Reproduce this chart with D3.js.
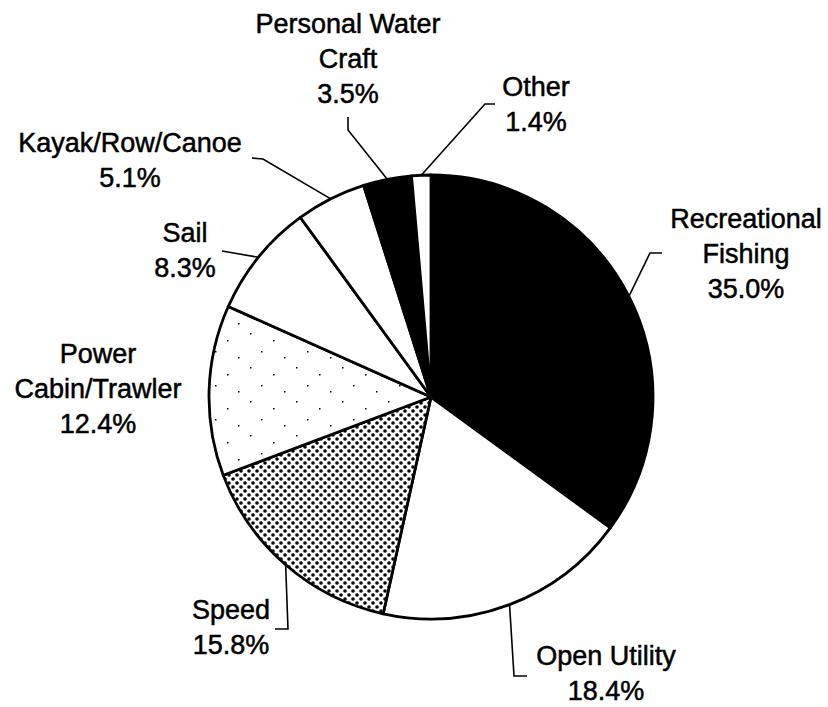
<!DOCTYPE html>
<html>
<head>
<meta charset="utf-8">
<script src="https://cdn.jsdelivr.net/npm/d3@7"></script>
<style>
  body { margin: 0; background: #fff; }
  text { font-family: "Liberation Sans", Arial, sans-serif; font-size: 27px; fill: #000;
         stroke: #000; stroke-width: 0.5px; }
</style>
</head>
<body>
<script>
// data
var categories = ['Recreational Fishing', 'Open Utility', 'Speed', 'Power Cabin/Trawler',
                  'Sail', 'Kayak/Row/Canoe', 'Personal Water Craft', 'Other'];
var shares = [35.0, 18.4, 15.8, 12.4, 8.3, 5.1, 3.5, 1.4];
var labelLines = [
    ['Recreational', 'Fishing'],
    ['Open Utility'],
    ['Speed'],
    ['Power', 'Cabin/Trawler'],
    ['Sail'],
    ['Kayak/Row/Canoe'],
    ['Personal Water', 'Craft'],
    ['Other']
];

// layout: label centre / first baseline, and leader elbows (null = no leader)
var labelPos = [[746, 228], [606, 665], [231, 619], [98, 363],
                [185, 242], [130, 152], [348, 33], [536, 96]];
var leaders = [
    [[662, 253], [650, 253]],
    [[527, 676], [514, 676]],
    [[275, 629], [288, 629]],
    null,
    [[222, 251]],
    [[252, 158], [263, 159]],
    [[348, 117], [348, 130]],
    [[495, 104], [485, 104]]
];
var fills = ['#000', '#fff', 'url(#dots)', 'url(#sparse)', '#fff', '#fff', '#000', '#fff'];

var width = 828,
    height = 707;

var cx = 431, cy = 397, radius = 222,
    lineHeight = 35;

var svg = d3.select('body').append('svg')
    .attr('width', width)
    .attr('height', height);

var defs = svg.append('defs');

var dots = defs.append('pattern')
    .attr('id', 'dots')
    .attr('patternUnits', 'userSpaceOnUse')
    .attr('width', 8)
    .attr('height', 8);
dots.append('rect').attr('width', 8).attr('height', 8).attr('fill', '#fff');
dots.append('circle').attr('cx', 2).attr('cy', 2).attr('r', 1.8).attr('fill', '#000');
dots.append('circle').attr('cx', 6).attr('cy', 6).attr('r', 1.8).attr('fill', '#000');

var sparse = defs.append('pattern')
    .attr('id', 'sparse')
    .attr('patternUnits', 'userSpaceOnUse')
    .attr('width', 46)
    .attr('height', 34);
sparse.append('rect').attr('width', 46).attr('height', 34).attr('fill', '#fff');
[[3, 4], [26, 11], [14, 22], [37, 28]].forEach(function(p) {
    sparse.append('rect').attr('x', p[0]).attr('y', p[1])
        .attr('width', 1.5).attr('height', 1.5).attr('fill', '#000');
});

var pie = d3.pie()
    .sort(null)
    .value(function(d) { return d; });

var arcs = pie(shares);

var arc = d3.arc()
    .innerRadius(0)
    .outerRadius(radius);

var edge = d3.arc()
    .innerRadius(radius)
    .outerRadius(radius);

var chart = svg.append('g')
    .attr('transform', 'translate(' + cx + ',' + cy + ')');

chart.selectAll('.slice')
    .data(arcs)
    .enter().append('path')
        .attr('class', 'slice')
        .attr('d', arc)
        .attr('fill', function(d, i) { return fills[i]; })
        .attr('stroke', '#000')
        .attr('stroke-width', 2.8)
        .attr('stroke-linejoin', 'round');

// leader lines
var line = d3.line();
arcs.forEach(function(d, i) {
    if (!leaders[i]) return;
    var c = edge.centroid(d);
    var pts = leaders[i].concat([[cx + c[0], cy + c[1]]]);
    svg.append('path')
        .attr('d', line(pts))
        .attr('fill', 'none')
        .attr('stroke', '#000')
        .attr('stroke-width', 1.6);
});

// labels
var fmt = d3.format('.1f');
categories.forEach(function(name, i) {
    var lines = labelLines[i].concat([fmt(shares[i]) + '%']);
    var t = svg.append('text')
        .attr('text-anchor', 'middle')
        .attr('x', labelPos[i][0])
        .attr('y', labelPos[i][1]);
    lines.forEach(function(s, j) {
        t.append('tspan')
            .attr('x', labelPos[i][0])
            .attr('dy', j == 0 ? 0 : lineHeight)
            .text(s);
    });
});
</script>
</body>
</html>
